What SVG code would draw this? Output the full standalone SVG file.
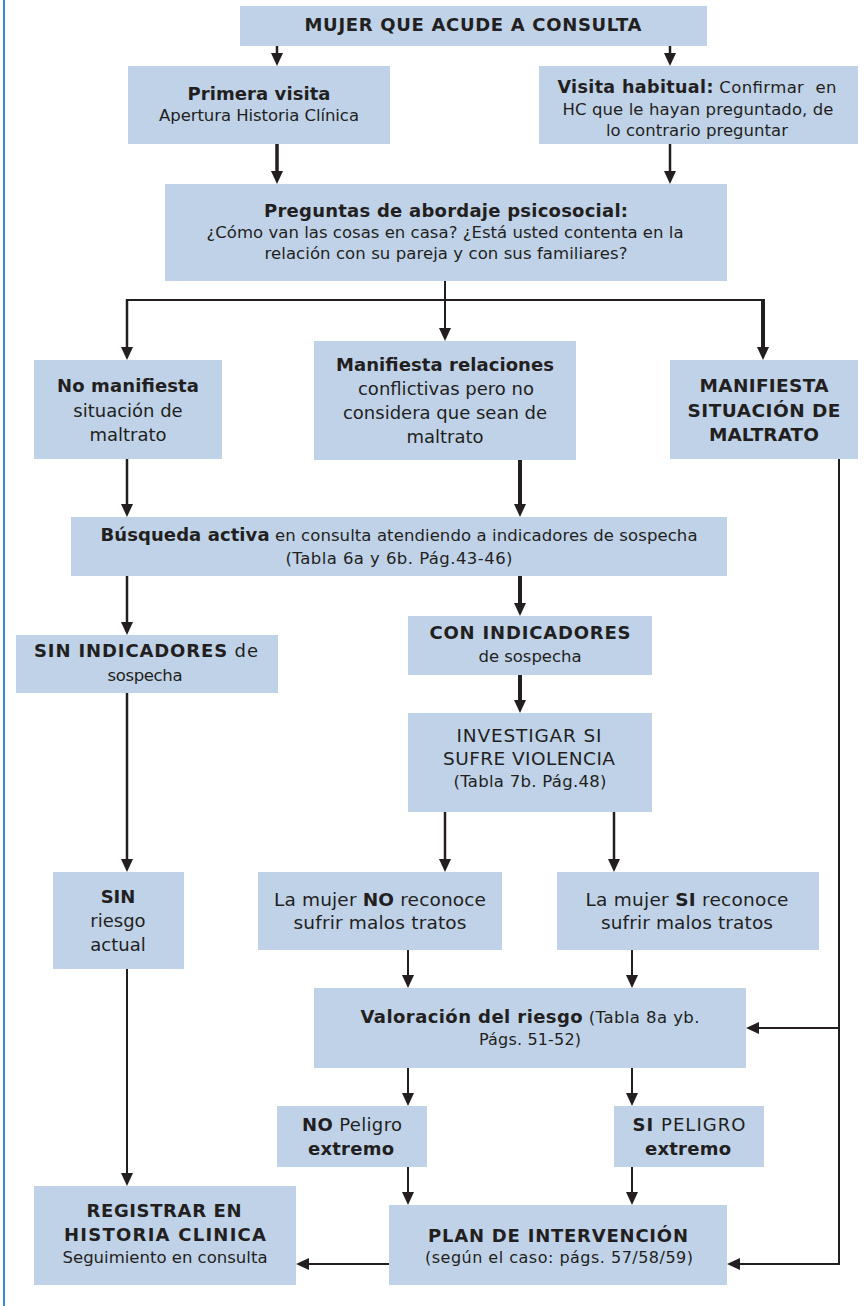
<svg xmlns="http://www.w3.org/2000/svg" width="867" height="1306" viewBox="0 0 867 1306">
<style>
  .box { fill: #bfd2e8; }
  text { font-family: "DejaVu Sans", Verdana, sans-serif; fill: #231f20; text-anchor: middle; font-size: 16.5px; }
  .b { font-weight: bold; }
  .n { font-weight: normal; }
  .s18 { font-size: 18px; }
  .s185 { font-size: 18.5px; }
  .s16 { font-size: 16px; }
  .ln { fill: none; stroke: #231f20; stroke-width: 2; }
  .arr { marker-end: url(#ah); }
  .w25 { stroke-width: 2.5; }
  .w35 { stroke-width: 3.5; }
  .w4 { stroke-width: 4; }
</style>
<defs>
  <marker id="ah" viewBox="0 0 13 12" markerWidth="13" markerHeight="12" refX="3" refY="6" orient="auto" markerUnits="userSpaceOnUse">
    <path d="M0,0 L13,6 L0,12 z" fill="#231f20"/>
  </marker>
</defs>
<rect width="867" height="1306" fill="#ffffff"/>
<line x1="4" y1="0" x2="4" y2="1306" stroke="#2a7fc4" stroke-width="1.8"/>

<g id="connectors">
  <path class="ln w25 arr" d="M277,46 V56"/>
  <path class="ln w25 arr" d="M670,46 V56"/>
  <path class="ln w35 arr" d="M277,144 V174"/>
  <path class="ln w25 arr" d="M670,144 V174"/>
  <path class="ln arr" d="M445,281 V331"/>
  <path class="ln" d="M126,300 H765"/>
  <path class="ln w25 arr" d="M127,299 V350"/>
  <path class="ln w4 arr" d="M763,299 V350"/>
  <path class="ln w25 arr" d="M127,459 V507"/>
  <path class="ln w4 arr" d="M520,460 V507"/>
  <path class="ln w25 arr" d="M127,576 V625"/>
  <path class="ln w4 arr" d="M520,576 V606"/>
  <path class="ln w4 arr" d="M520,675 V703"/>
  <path class="ln w25 arr" d="M127,693 V862"/>
  <path class="ln w25 arr" d="M445,812 V862"/>
  <path class="ln w25 arr" d="M614,812 V862"/>
  <path class="ln arr" d="M408,950 V978"/>
  <path class="ln arr" d="M632,950 V978"/>
  <path class="ln arr" d="M408,1068 V1096"/>
  <path class="ln arr" d="M632,1068 V1096"/>
  <path class="ln arr" d="M408,1167 V1195"/>
  <path class="ln arr" d="M632,1167 V1195"/>
  <path class="ln arr" d="M127,969 V1176"/>
  <path class="ln arr" d="M389,1264 H306"/>
  <path class="ln arr" d="M839,459 V1264 H737"/>
  <path class="ln arr" d="M839,1028 H756"/>
</g>

<g id="n-mujer">
  <rect class="box" x="240" y="6" width="467" height="40"/>
  <text class="b s18" x="473" y="31" textLength="337" lengthAdjust="spacing">MUJER QUE ACUDE A CONSULTA</text>
</g>
<g id="n-primera">
  <rect class="box" x="128" y="66" width="262" height="78"/>
  <text class="b s18" x="259" y="100" textLength="143" lengthAdjust="spacing">Primera visita</text>
  <text x="259" y="121" textLength="200" lengthAdjust="spacing">Apertura Historia Clínica</text>
</g>
<g id="n-habitual">
  <rect class="box" x="539" y="66" width="319" height="78"/>
  <text x="697" y="93" textLength="279" lengthAdjust="spacing" xml:space="preserve"><tspan class="b" style="font-size:17.5px">Visita habitual:</tspan> Confirmar  en</text>
  <text x="698" y="114.5" textLength="271" lengthAdjust="spacing">HC que le hayan preguntado, de</text>
  <text x="697" y="136" textLength="182" lengthAdjust="spacing">lo contrario preguntar</text>
</g>
<g id="n-preguntas">
  <rect class="box" x="165" y="184" width="562" height="97"/>
  <text class="b s18" x="446" y="217" textLength="364" lengthAdjust="spacing">Preguntas de abordaje psicosocial:</text>
  <text x="445" y="238" textLength="477" lengthAdjust="spacing">¿Cómo van las cosas en casa? ¿Está usted contenta en la</text>
  <text x="446" y="259" textLength="363" lengthAdjust="spacing">relación con su pareja y con sus familiares?</text>
</g>
<g id="n-nomanifiesta">
  <rect class="box" x="34" y="360" width="188" height="99"/>
  <text class="b s18" x="128" y="392" textLength="142" lengthAdjust="spacing">No manifiesta</text>
  <text class="s18" x="128" y="417">situación de</text>
  <text class="s18" x="128" y="441">maltrato</text>
</g>
<g id="n-relaciones">
  <rect class="box" x="314" y="341" width="262" height="119"/>
  <text class="b s18" x="445" y="371" textLength="218" lengthAdjust="spacing">Manifiesta relaciones</text>
  <text class="s18" x="446" y="395">conflictivas pero no</text>
  <text class="s18" x="445" y="419">considera que sean de</text>
  <text class="s18" x="445" y="443">maltrato</text>
</g>
<g id="n-maltrato">
  <rect class="box" x="670" y="360" width="188" height="99"/>
  <text class="b s185" x="764" y="392" textLength="129" lengthAdjust="spacing">MANIFIESTA</text>
  <text class="b s185" x="764" y="417" textLength="153" lengthAdjust="spacing">SITUACIÓN DE</text>
  <text class="b s185" x="764" y="441" textLength="110" lengthAdjust="spacing">MALTRATO</text>
</g>
<g id="n-busqueda">
  <rect class="box" x="71" y="517" width="656" height="59"/>
  <text x="399" y="541" textLength="597" lengthAdjust="spacing"><tspan class="b s18">Búsqueda activa</tspan>  en consulta atendiendo a indicadores de sospecha</text>
  <text x="399" y="564" textLength="227" lengthAdjust="spacing">(Tabla 6a y 6b. Pág.43-46)</text>
</g>
<g id="n-sinindicadores">
  <rect class="box" x="16" y="635" width="262" height="58"/>
  <text x="146" y="657" textLength="224" lengthAdjust="spacing"><tspan class="b s18">SIN INDICADORES</tspan><tspan class="s18"> de</tspan></text>
  <text x="145" y="681" textLength="75" lengthAdjust="spacing">sospecha</text>
</g>
<g id="n-conindicadores">
  <rect class="box" x="408" y="616" width="244" height="59"/>
  <text class="b s18" x="530" y="639" textLength="201" lengthAdjust="spacing">CON INDICADORES</text>
  <text x="530" y="662" textLength="103" lengthAdjust="spacing">de sospecha</text>
</g>
<g id="n-investigar">
  <rect class="box" x="408" y="713" width="244" height="99"/>
  <text class="s185" x="529" y="742" textLength="145" lengthAdjust="spacing">INVESTIGAR SI</text>
  <text class="s185" x="529" y="765" textLength="172" lengthAdjust="spacing">SUFRE VIOLENCIA</text>
  <text x="530" y="787" textLength="153" lengthAdjust="spacing">(Tabla 7b. Pág.48)</text>
</g>
<g id="n-sinriesgo">
  <rect class="box" x="53" y="872" width="131" height="97"/>
  <text class="b s18" x="118" y="903">SIN</text>
  <text class="s18" x="118" y="927">riesgo</text>
  <text class="s18" x="118" y="951">actual</text>
</g>
<g id="n-noreconoce">
  <rect class="box" x="258" y="872" width="244" height="78"/>
  <text class="s185" x="380" y="906" textLength="212" lengthAdjust="spacing">La mujer <tspan class="b">NO</tspan> reconoce</text>
  <text class="s185" x="380" y="929" textLength="173" lengthAdjust="spacing">sufrir malos tratos</text>
</g>
<g id="n-sireconoce">
  <rect class="box" x="557" y="872" width="262" height="78"/>
  <text class="s185" x="687" y="906" textLength="203" lengthAdjust="spacing">La mujer <tspan class="b">SI</tspan> reconoce</text>
  <text class="s185" x="687" y="929" textLength="172" lengthAdjust="spacing">sufrir malos tratos</text>
</g>
<g id="n-valoracion">
  <rect class="box" x="314" y="988" width="432" height="80"/>
  <text x="530" y="1023" textLength="339" lengthAdjust="spacing"><tspan class="b s18">Valoración del riesgo</tspan> (Tabla 8a yb.</text>
  <text class="s16" x="530" y="1045" textLength="102" lengthAdjust="spacing">Págs. 51-52)</text>
</g>
<g id="n-nopeligro">
  <rect class="box" x="277" y="1106" width="150" height="61"/>
  <text class="s18" x="352" y="1131" textLength="100" lengthAdjust="spacing"><tspan class="b">NO</tspan> Peligro</text>
  <text class="b s18" x="351" y="1155" textLength="86" lengthAdjust="spacing">extremo</text>
</g>
<g id="n-sipeligro">
  <rect class="box" x="614" y="1106" width="150" height="61"/>
  <text class="s18" x="689" y="1131" textLength="113" lengthAdjust="spacing"><tspan class="b">SI</tspan> PELIGRO</text>
  <text class="b s18" x="688" y="1155" textLength="86" lengthAdjust="spacing">extremo</text>
</g>
<g id="n-registrar">
  <rect class="box" x="34" y="1186" width="262" height="99"/>
  <text class="b s18" x="164" y="1217" textLength="155" lengthAdjust="spacing">REGISTRAR EN</text>
  <text class="b s18" x="165" y="1241" textLength="202" lengthAdjust="spacing">HISTORIA CLINICA</text>
  <text x="165" y="1263" textLength="205" lengthAdjust="spacing">Seguimiento en consulta</text>
</g>
<g id="n-plan">
  <rect class="box" x="389" y="1205" width="338" height="80"/>
  <text class="b s18" x="558" y="1242" textLength="260" lengthAdjust="spacing">PLAN DE INTERVENCIÓN</text>
  <text class="s16" x="559" y="1263" textLength="268" lengthAdjust="spacing">(según el caso: págs. 57/58/59)</text>
</g>
</svg>
